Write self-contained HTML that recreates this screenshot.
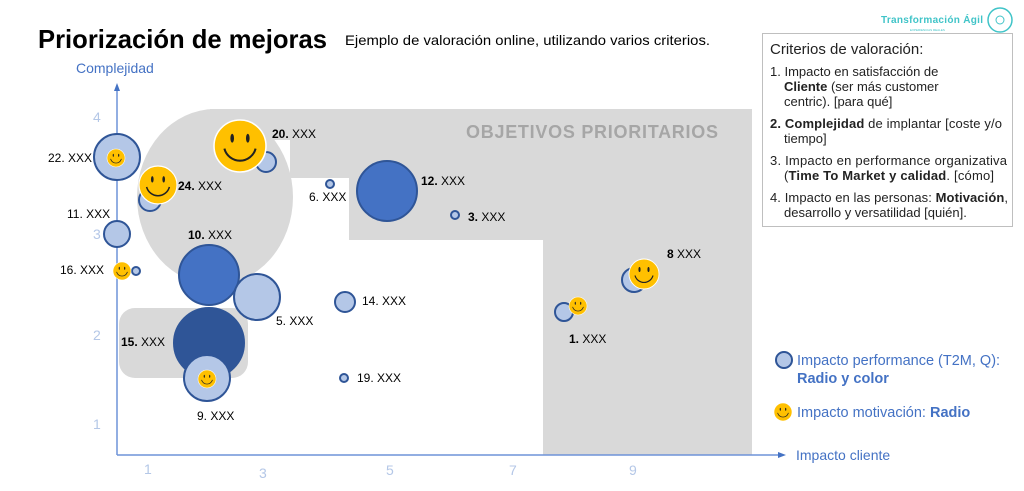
<!DOCTYPE html>
<html><head><meta charset="utf-8"><style>
body{margin:0;background:#fff;width:1024px;height:486px;overflow:hidden}
svg text{font-family:"Liberation Sans",Arial,sans-serif}
</style></head><body>
<svg width="1024" height="486" viewBox="0 0 1024 486" xmlns="http://www.w3.org/2000/svg">
<defs>
<g id="sm">
<circle r="1" fill="#ffc000" stroke="#fff" stroke-width="0.06"/>
<ellipse cx="-0.3" cy="-0.3" rx="0.07" ry="0.17" fill="#222"/>
<ellipse cx="0.3" cy="-0.3" rx="0.07" ry="0.17" fill="#222"/>
<path d="M-0.6,0.1 A0.62,0.62 0 0 0 0.6,0.1" fill="none" stroke="#222" stroke-width="0.08"/>
</g>
</defs>
<ellipse cx="215" cy="197" rx="78" ry="88" fill="#d9d9d9"/>
<polygon points="210,109 752,109 752,455 543,455 543,240 349,240 349,178 290,178 290,140 210,140" fill="#d9d9d9"/>
<rect x="119" y="308" width="129" height="70" rx="16" fill="#d9d9d9"/>
<text x="466" y="138" font-size="18" font-weight="bold" fill="#a6a6a6" textLength="252">OBJETIVOS PRIORITARIOS</text>
<line x1="117" y1="455" x2="117" y2="88" stroke="#6f93d8" stroke-width="1.5"/>
<polygon points="117,83 114,91 120,91" fill="#4472c4"/>
<line x1="117" y1="455" x2="780" y2="455" stroke="#6f93d8" stroke-width="1.5"/>
<polygon points="786,455 778,452 778,458" fill="#4472c4"/>
<g font-size="14" fill="#b4c7e7">
<text x="93" y="122">4</text><text x="93" y="239">3</text><text x="93" y="340">2</text><text x="93" y="429">1</text>
<text x="144" y="474">1</text><text x="259" y="478">3</text><text x="386" y="475">5</text><text x="509" y="475">7</text><text x="629" y="475">9</text>
</g>
<text x="76" y="73" font-size="14" fill="#4472c4">Complejidad</text>
<text x="796" y="460" font-size="14" fill="#4472c4">Impacto cliente</text>
<text x="38" y="48" font-size="26" font-weight="bold" fill="#000" textLength="289" lengthAdjust="spacingAndGlyphs">Priorización de mejoras</text>
<text x="345" y="45" font-size="14" fill="#000" textLength="365" lengthAdjust="spacingAndGlyphs">Ejemplo de valoración online, utilizando varios criterios.</text>
<g stroke="#2f5597" stroke-width="2">
<circle cx="117" cy="157" r="23" fill="#b4c7e7"/>
<circle cx="150" cy="200" r="11" fill="#b4c7e7"/>
<circle cx="266" cy="162" r="10" fill="#b4c7e7"/>
<circle cx="117" cy="234" r="13" fill="#b4c7e7"/>
<circle cx="136" cy="271" r="4" fill="#b4c7e7"/>
<circle cx="209" cy="275" r="30" fill="#4472c4"/>
<circle cx="257" cy="297" r="23" fill="#b4c7e7"/>
<circle cx="209" cy="343" r="35" fill="#2f5597"/>
<circle cx="207" cy="378" r="23" fill="#b4c7e7"/>
<circle cx="330" cy="184" r="4" fill="#b4c7e7"/>
<circle cx="387" cy="191" r="30" fill="#4472c4"/>
<circle cx="455" cy="215" r="4" fill="#b4c7e7"/>
<circle cx="345" cy="302" r="10" fill="#b4c7e7"/>
<circle cx="344" cy="378" r="4" fill="#b4c7e7"/>
<circle cx="564" cy="312" r="9" fill="#b4c7e7"/>
<circle cx="634" cy="280" r="12" fill="#b4c7e7"/>
<circle cx="784" cy="360" r="8" fill="#b4c7e7"/>
</g>
<use href="#sm" transform="translate(116,158) scale(9)"/>
<use href="#sm" transform="translate(158,185) scale(19)"/>
<use href="#sm" transform="translate(240,146) scale(26)"/>
<use href="#sm" transform="translate(122,271) scale(9)"/>
<use href="#sm" transform="translate(207,379) scale(9)"/>
<use href="#sm" transform="translate(578,306) scale(9)"/>
<use href="#sm" transform="translate(644,274) scale(15)"/>
<use href="#sm" transform="translate(783,412) scale(9)"/>
<g font-size="12" fill="#000">
<text x="48" y="162">22. XXX</text>
<text x="178" y="190"><tspan font-weight="bold">24.</tspan> XXX</text>
<text x="272" y="138"><tspan font-weight="bold">20.</tspan> XXX</text>
<text x="67" y="218">11. XXX</text>
<text x="60" y="274">16. XXX</text>
<text x="188" y="239"><tspan font-weight="bold">10.</tspan> XXX</text>
<text x="276" y="325">5. XXX</text>
<text x="121" y="346"><tspan font-weight="bold">15.</tspan> XXX</text>
<text x="197" y="420">9. XXX</text>
<text x="309" y="201">6. XXX</text>
<text x="421" y="185"><tspan font-weight="bold">12.</tspan> XXX</text>
<text x="468" y="221"><tspan font-weight="bold">3.</tspan> XXX</text>
<text x="362" y="305">14. XXX</text>
<text x="357" y="382">19. XXX</text>
<text x="569" y="343"><tspan font-weight="bold">1.</tspan> XXX</text>
<text x="667" y="258"><tspan font-weight="bold">8</tspan> XXX</text>
</g>
<g font-size="14.5" fill="#4472c4">
<text x="797" y="365">Impacto performance (T2M, Q):</text>
<text x="797" y="383" font-weight="bold">Radio y color</text>
<text x="797" y="417">Impacto motivación: <tspan font-weight="bold">Radio</tspan></text>
</g>
<text x="881" y="23" font-size="10" font-weight="bold" fill="#40c4c8" textLength="102">Transformación Ágil</text>
<text x="910" y="31" font-size="3" fill="#40c4c8">EXPERIENCIAS REALES</text>
<circle cx="1000" cy="20" r="12" fill="none" stroke="#40c4c8" stroke-width="1.5"/>
<circle cx="1000" cy="20" r="4" fill="none" stroke="#40c4c8" stroke-width="1"/>
<rect x="762.5" y="33.5" width="250" height="193" fill="#fff" stroke="#bfbfbf"/>
<g font-size="13" fill="#222">
<text x="770" y="54" font-size="15">Criterios de valoración:</text>
<text x="770" y="76">1. Impacto en satisfacción de</text>
<text x="784" y="91"><tspan font-weight="bold">Cliente</tspan> (ser más customer</text>
<text x="784" y="106">centric).  [para qué]</text>
<text x="770" y="128" textLength="232"><tspan font-weight="bold">2. Complejidad</tspan> de implantar  [coste y/o</text>
<text x="784" y="143">tiempo]</text>
<text x="770" y="165" textLength="237">3. Impacto en performance organizativa</text>
<text x="784" y="180" textLength="210">(<tspan font-weight="bold">Time To Market y calidad</tspan>. [cómo]</text>
<text x="770" y="202" textLength="238">4. Impacto en las personas: <tspan font-weight="bold">Motivación</tspan>,</text>
<text x="784" y="217">desarrollo y versatilidad [quién].</text>
</g>
</svg>
</body></html>
